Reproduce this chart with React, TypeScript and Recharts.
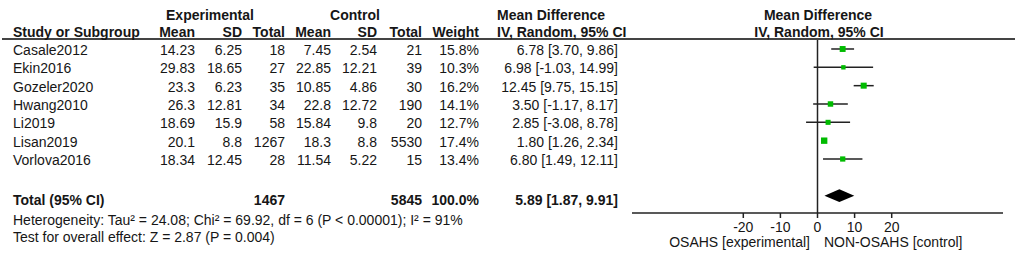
import React from 'react'
import {
  ComposedChart,
  Scatter,
  ErrorBar,
  XAxis,
  YAxis,
  ReferenceLine,
  ReferenceArea,
} from 'recharts'

// study table
const studies = ['Casale2012', 'Ekin2016', 'Gozeler2020', 'Hwang2010', 'Li2019', 'Lisan2019', 'Vorlova2016']
const expMean = ['14.23', '29.83', '23.3', '26.3', '18.69', '20.1', '18.34']
const expSD = ['6.25', '18.65', '6.23', '12.81', '15.9', '8.8', '12.45']
const expTotal = [18, 27, 35, 34, 58, 1267, 28]
const ctrlMean = ['7.45', '22.85', '10.85', '22.8', '15.84', '18.3', '11.54']
const ctrlSD = ['2.54', '12.21', '4.86', '12.72', '9.8', '8.8', '5.22']
const ctrlTotal = [21, 39, 30, 190, 20, 5530, 15]
const weights = [15.8, 10.3, 16.2, 14.1, 12.7, 17.4, 13.4]
const md = [6.78, 6.98, 12.45, 3.5, 2.85, 1.8, 6.8]
const ciLow = [3.7, -1.03, 9.75, -1.17, -3.08, 1.26, 1.49]
const ciHigh = [9.86, 14.99, 15.15, 8.17, 8.78, 2.34, 12.11]

// pooled result
const totalExp = 1467
const totalCtrl = 5845
const totalWeight = 100.0
const totalMd = 5.89
const totalLow = 1.87
const totalHigh = 9.91
const totalRow = 8

const xTicks = [-20, -10, 0, 10, 20]

const FONT = '"Liberation Sans", Arial, sans-serif'
const INK = '#161616'
const FS = 14

const fmtCI = (m: number, lo: number, hi: number) =>
  `${m.toFixed(2)} [${lo.toFixed(2)}, ${hi.toFixed(2)}]`

const studyRows = studies.map((name, i) => ({
  name,
  row: i,
  md: md[i],
  err: [md[i] - ciLow[i], ciHigh[i] - md[i]],
  weight: weights[i],
  cells: [
    expMean[i],
    expSD[i],
    String(expTotal[i]),
    ctrlMean[i],
    ctrlSD[i],
    String(ctrlTotal[i]),
    `${weights[i].toFixed(1)}%`,
    fmtCI(md[i], ciLow[i], ciHigh[i]),
  ],
  bold: false,
}))

const tableRows = [
  ...studyRows,
  {
    name: 'Total (95% CI)',
    row: totalRow,
    md: totalMd,
    err: [0, 0],
    weight: totalWeight,
    cells: ['', '', String(totalExp), '', '', String(totalCtrl), `${totalWeight.toFixed(1)}%`, fmtCI(totalMd, totalLow, totalHigh)],
    bold: true,
  },
]

// right edges of the table columns
const colX = [195, 242, 285, 331, 377, 422, 479, 618]

const TableRow = (props: any) => {
  const { cy, payload } = props
  // the total line sits a little below the diamond
  const y = payload.bold ? cy + 4 : cy + 1
  return (
    <g fontFamily={FONT} fontSize={FS} fill={INK} fontWeight={payload.bold ? 700 : 400}>
      <text x={13} y={y} dominantBaseline="central">{payload.name}</text>
      {payload.cells.map((c: string, i: number) => (
        <text key={i} x={colX[i]} y={y} textAnchor="end" dominantBaseline="central">{c}</text>
      ))}
    </g>
  )
}

const StudySquare = (props: any) => {
  const { cx, cy, payload } = props
  const s = 1.5 + payload.weight * 0.28
  return <rect x={cx - s / 2} y={cy - s / 2} width={s} height={s} fill="#00bb00" />
}

const Diamond = (props: any) => {
  const { x, y, width, height } = props
  const my = y + height / 2
  const mx = x + width / 2
  return <polygon points={`${x},${my} ${mx},${y} ${x + width},${my} ${mx},${y + height}`} fill="#000" />
}

export default function App() {
  return (
    <div style={{ position: 'relative', width: 1021, height: 254, background: '#fff' }}>
      <style>{'body{margin:0}'}</style>
      <ComposedChart
        width={1021}
        height={254}
        margin={{ top: 39, right: 18, bottom: 21, left: 632 }}
      >
        <XAxis
          type="number"
          dataKey="md"
          domain={[-50, 50]}
          ticks={xTicks}
          height={20}
          axisLine={{ stroke: '#222', strokeWidth: 1.5 }}
          tickLine={{ stroke: '#222', strokeWidth: 1.5 }}
          tickSize={5}
          tickMargin={4}
          tick={{ fill: INK, fontSize: FS, fontFamily: FONT }}
        />
        <YAxis type="number" dataKey="row" domain={[-0.545, 8.945]} reversed hide />
        <ReferenceLine x={0} stroke="#222" strokeWidth={1.5} />
        <ReferenceArea
          x1={totalLow}
          x2={totalHigh}
          y1={totalRow - 0.35}
          y2={totalRow + 0.35}
          shape={Diamond}
        />
        <Scatter data={studyRows} shape={StudySquare} isAnimationActive={false}>
          <ErrorBar dataKey="err" direction="x" width={0} stroke="#222" strokeWidth={1.5} />
        </Scatter>
        <Scatter data={tableRows} shape={TableRow} isAnimationActive={false} />
      </ComposedChart>
      <svg
        width={1021}
        height={254}
        style={{ position: 'absolute', left: 0, top: 0, pointerEvents: 'none' }}
        fontFamily={FONT}
        fontSize={FS}
        fill={INK}
      >
        <line x1={2} x2={1015} y1={39} y2={39} stroke="#444" strokeWidth={2} />
        <g fontWeight={700}>
          <text x={210} y={15} textAnchor="middle" dominantBaseline="central">Experimental</text>
          <text x={355} y={15} textAnchor="middle" dominantBaseline="central">Control</text>
          <text x={497} y={15} dominantBaseline="central">Mean Difference</text>
          <text x={818} y={15} textAnchor="middle" dominantBaseline="central">Mean Difference</text>
          <text x={13} y={32} dominantBaseline="central">Study or Subgroup</text>
          {['Mean', 'SD', 'Total', 'Mean', 'SD', 'Total', 'Weight'].map((h, i) => (
            <text key={i} x={colX[i]} y={32} textAnchor="end" dominantBaseline="central">{h}</text>
          ))}
          <text x={497} y={32} dominantBaseline="central">IV, Random, 95% CI</text>
          <text x={819} y={32} textAnchor="middle" dominantBaseline="central">IV, Random, 95% CI</text>
        </g>
        <text x={13} y={220} dominantBaseline="central">
          Heterogeneity: Tau² = 24.08; Chi² = 69.92, df = 6 (P &lt; 0.00001); I² = 91%
        </text>
        <text x={13} y={237} dominantBaseline="central">Test for overall effect: Z = 2.87 (P = 0.004)</text>
        <text x={810} y={242} textAnchor="end" dominantBaseline="central">OSAHS [experimental]</text>
        <text x={824} y={242} dominantBaseline="central">NON-OSAHS [control]</text>
      </svg>
    </div>
  )
}
